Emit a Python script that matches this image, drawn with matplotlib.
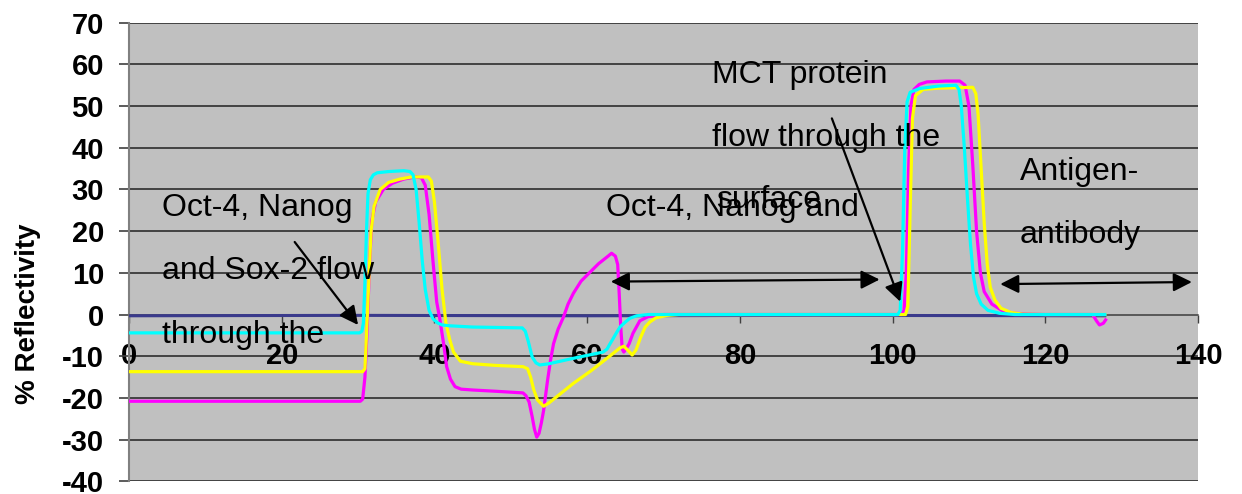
import matplotlib
matplotlib.use("Agg")
import matplotlib.pyplot as plt

plt.rcParams['font.family'] = ['Liberation Sans', 'DejaVu Sans']

# ---- data ----
magenta_x = [0, 30.3, 30.6, 30.9, 31.2, 31.5, 31.8, 32.3, 33.3, 34.5, 36, 37.5, 38.3, 38.8, 39.3, 39.8,
             40.3, 40.7, 41.2, 41.6, 42.1, 42.7, 43.5, 45, 48, 51.6, 52.0, 52.4, 52.8, 53.1, 53.4, 53.7,
             54.0, 54.3, 54.8, 55.2, 55.6, 56.2, 56.9, 57.5, 58.2, 59.2, 60.4, 61.5, 62.6, 63.2, 63.7,
             64.0, 64.2, 64.4, 64.6, 64.8, 65.1, 65.5, 66.0, 66.9, 68, 70, 75, 101.2, 101.5, 101.8,
             102.1, 102.4, 102.8, 103.5, 104.5, 107, 108.8, 109.5, 110.0, 110.5, 111.0, 111.5, 112.0,
             113.0, 114.5, 116, 118, 120, 126.2, 126.7, 127.1, 127.6, 127.9]
magenta_y = [-20.8, -20.8, -20.3, -15, -3, 12, 22.5, 27, 30, 31.5, 32.5, 33, 32.8, 31, 24, 13,
             3, -1, -7, -12.5, -15.5, -17.3, -17.9, -18.1, -18.4, -18.8, -19.5, -21, -24.5, -27.5, -29.4, -28.5,
             -26, -23, -16, -11, -7, -3.5, -0.6, 2.5, 5.1, 8, 10.2, 12.2, 13.8, 14.7, 14.0,
             12, 5, -3, -8.3, -9, -8.3, -7, -4.5, -1.5, -0.5, 0, 0, 0, 1, 10,
             35, 50, 54, 55.2, 55.8, 56, 56, 55, 50, 36, 20, 10, 5.5,
             2.5, 0.8, 0.3, 0.1, 0, 0, -1.5, -2.5, -2.1, -1.3]

yellow_x = [0, 30.6, 30.9, 31.1, 31.4, 31.7, 32.1, 32.9, 34, 35.5, 37, 39.2, 39.6, 40.0, 40.5, 41.0,
            41.5, 42.0, 42.5, 43.4, 45, 48, 51.6, 52.2, 52.6, 53.0, 53.5, 54.3, 55, 56.5, 58.2, 60.5,
            62.6, 64.3, 64.8, 65.3, 65.9, 66.4, 67, 67.6, 68.2, 69, 70.5, 72, 101.7, 102.0, 102.3,
            102.6, 103, 104, 106, 110.5, 110.9, 111.2, 111.6, 112.0, 112.4, 112.8, 113.4, 114.2,
            115.5, 117, 120, 127.8]
yellow_y = [-13.7, -13.7, -13, -5, 8, 20, 26, 30, 31.7, 32.5, 33, 33, 32, 27, 17, 6,
            -2, -6, -9, -11.2, -11.8, -12.2, -12.5, -13, -15, -18, -20.5, -22, -21.2, -19, -16.5, -13.5,
            -10.5, -8, -7.6, -8.5, -9.7, -8.5, -5.5, -3, -1.8, -0.8, -0.2, 0, 0, 2, 25,
            47, 52.5, 54, 54.3, 54.5, 53, 48, 35, 22, 12, 6.5, 3.5, 1.5,
            0.5, 0.1, 0, 0]

cyan_x = [0, 30.2, 30.5, 30.7, 30.9, 31.1, 31.3, 31.6, 32.0, 32.5, 34, 36, 36.8, 37.2, 37.6, 38.0,
          38.4, 38.8, 39.3, 39.8, 40.4, 41, 42, 45, 51.5, 51.9, 52.3, 52.8, 53.3, 53.8, 55, 58.2,
          60, 62.1, 62.6, 63.0, 63.3, 63.8, 64.3, 65.0, 65.6, 66.5, 68, 100.7, 101.0, 101.3, 101.6,
          101.9, 102.3, 103.5, 106, 108.3, 108.7, 109.0, 109.4, 109.8, 110.2, 110.6, 111, 111.6,
          112.5, 114, 116, 127.8]
cyan_y = [-4.4, -4.4, -4.0, -2, 8, 20, 29, 32.3, 33.5, 34, 34.3, 34.5, 34.3, 33.5, 30, 22,
          13, 6, 1, -1, -2, -2.5, -2.7, -3, -3.2, -4, -6.5, -10.2, -11.6, -12.1, -11.8, -10.5,
          -9.8, -9, -8.3, -7, -6.1, -4.5, -3, -1.8, -0.9, -0.3, 0, 0, 1, 15, 40,
          51, 53.3, 54.2, 54.8, 55, 54, 50, 40, 28, 17, 9, 5, 2.5,
          1, 0.3, 0, 0]

navy_x = [0, 30, 60, 90, 127.8]
navy_y = [-0.3, -0.2, -0.3, -0.2, -0.3]

x_ticks = [0, 20, 40, 60, 80, 100, 120, 140]
y_ticks = [-40, -30, -20, -10, 0, 10, 20, 30, 40, 50, 60, 70]

# ---- figure ----
fig = plt.figure(figsize=(12.42, 4.94), dpi=100)
fig.patch.set_facecolor('white')
ax = fig.add_axes([129 / 1242, 1 - 481.3 / 494, (1198 - 129) / 1242, (481.3 - 22.7) / 494])
ax.set_facecolor('#C0C0C0')
ax.set_xlim(0, 140)
ax.set_ylim(-40, 70)

for yv in y_ticks:
    ax.axhline(yv, color='#202020', lw=1.1, zorder=1)

ax.spines['top'].set_visible(False)
ax.spines['right'].set_visible(False)
ax.spines['left'].set_color('#808080')
ax.spines['left'].set_linewidth(1.5)
ax.spines['bottom'].set_position(('data', 0))
ax.spines['bottom'].set_color('#606060')
ax.spines['bottom'].set_linewidth(1.2)

ax.plot(navy_x, navy_y, color='#3A3A8C', lw=2.2, zorder=3)
ax.plot(magenta_x, magenta_y, color='#FF00FF', lw=2.3, zorder=4)
ax.plot(yellow_x, yellow_y, color='#FFFF00', lw=2.3, zorder=5)
ax.plot(cyan_x, cyan_y, color='#00FFFF', lw=2.3, zorder=6)

ax.set_xticks(x_ticks)
ax.set_yticks(y_ticks)
ax.set_xticklabels([str(v) for v in x_ticks], fontsize=21, fontweight='bold')
ax.set_yticklabels([str(v) for v in y_ticks], fontsize=21, fontweight='bold')
ax.tick_params(axis='y', direction='out', length=7, width=1.2, color='#404040', pad=11)
ax.tick_params(axis='x', direction='out', length=5.5, width=1.0, color='#404040', pad=14)
for lbl in ax.get_xticklabels():
    lbl.set_zorder(10)

fig.text(28 / 1242, 1 - 314 / 494, '% Reflectivity', rotation=90, fontsize=20,
         fontweight='bold', ha='center', va='center')

tkw = dict(fontsize=23, va='baseline', ha='left', color='black', zorder=8)
ax.text(4.3, 23.6, 'Oct-4, Nanog', **tkw)
ax.text(4.3, 8.5, 'and Sox-2 flow', **tkw)
ax.text(4.3, -6.8, 'through the', **tkw)
ax.text(62.5, 23.6, 'Oct-4, Nanog and', **tkw)
ax.text(76.4, 55.6, 'MCT protein', **tkw)
ax.text(76.4, 40.4, 'flow through the', **tkw)
ax.text(76.9, 25.5, 'surface', **tkw)
ax.text(116.7, 32.3, 'Antigen-', **tkw)
ax.text(116.7, 17.2, 'antibody', **tkw)

akw = dict(color='black', lw=1.6, shrinkA=0, shrinkB=0, mutation_scale=28)
ax.annotate('', xy=(30.0, -2.5), xytext=(21.7, 17.4),
            arrowprops=dict(arrowstyle='-|>', **akw), zorder=9)
ax.annotate('', xy=(63.1, 7.9), xytext=(98.3, 8.4),
            arrowprops=dict(arrowstyle='<|-|>', **akw), zorder=9)
ax.annotate('', xy=(101.0, 3.1), xytext=(92.05, 47.05),
            arrowprops=dict(arrowstyle='-|>', **akw), zorder=9)
ax.annotate('', xy=(114.1, 7.3), xytext=(139.2, 7.8),
            arrowprops=dict(arrowstyle='<|-|>', **akw), zorder=9)

fig.savefig('out.png', dpi=100)
